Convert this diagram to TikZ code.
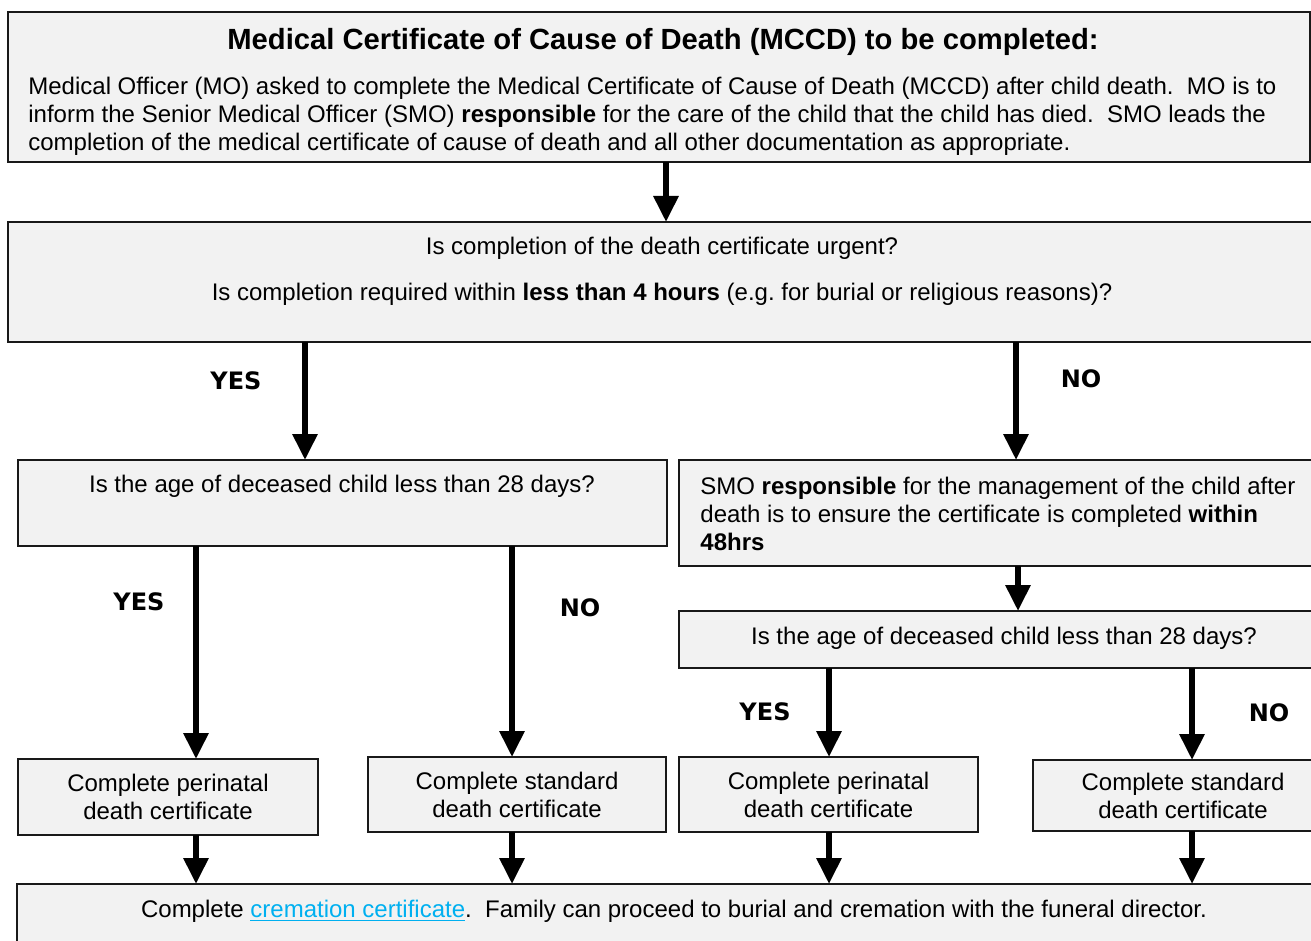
\documentclass[tikz,border=0pt]{standalone}
\usepackage{fontspec}
\setmainfont{Liberation Sans}
\newfontfamily\heavyfont{DejaVu Sans}
\usetikzlibrary{arrows.meta}
\definecolor{boxgray}{RGB}{242,242,242}
\definecolor{linkblue}{RGB}{0,176,240}
\begin{document}
\begin{tikzpicture}[x=0.5pt,y=-0.5pt,
        box/.style={draw=black!90,fill=boxgray,line width=1pt,rectangle,
            anchor=north west,inner sep=0pt,outer sep=0pt},
        txt/.style={font=\fontsize{12}{14}\selectfont,inner sep=0pt},
        yesno/.style={font=\heavyfont\bfseries\fontsize{12}{14}\selectfont,inner sep=0pt},
        arr/.style={line width=3pt,-{Triangle[width=12pt,length=13pt]}}]
\useasboundingbox (0,0) rectangle (1311,941);

\node[box,minimum width=651pt,minimum height=75pt] (top) at (8,12) {};
\node[box,minimum width=656pt,minimum height=60pt] (urgent) at (8,222) {};
\node[box,minimum width=324.5pt,minimum height=43pt] (ageL) at (18,460) {};
\node[box,minimum width=320.5pt,minimum height=53pt] (smo) at (679,460) {};
\node[box,minimum width=320.5pt,minimum height=28.5pt] (ageR) at (679,611) {};
\node[box,minimum width=150pt,minimum height=38pt,align=center,txt] (perL) at (18,759)
    {Complete perinatal\\death certificate};
\node[box,minimum width=149pt,minimum height=37.5pt,align=center,txt] (stdL) at (368,757)
    {Complete standard\\death certificate};
\node[box,minimum width=149.5pt,minimum height=37.5pt,align=center,txt] (perR) at (679,757)
    {Complete perinatal\\death certificate};
\node[box,minimum width=150pt,minimum height=35.5pt,align=center,txt] (stdR) at (1033,760)
    {Complete standard\\death certificate};
\node[box,minimum width=651.5pt,minimum height=38pt] (final) at (17,884) {};

\node[font=\bfseries\fontsize{14.6}{16}\selectfont,inner sep=0pt] (title) at (663,42)
    {Medical Certificate of Cause of Death (MCCD) to be completed:};
\node[txt,anchor=west,align=left] (intro) at (28,116)
    {Medical Officer (MO) asked to complete the Medical Certificate of Cause of Death (MCCD) after child death.\ \ MO is to\\
     inform the Senior Medical Officer (SMO) \textbf{responsible} for the care of the child that the child has died.\ \ SMO leads the\\
     completion of the medical certificate of cause of death and all other documentation as appropriate.};
\node[txt] (urgQ1) at (662,248) {Is completion of the death certificate urgent?};
\node[txt] (urgQ2) at (662,294) {Is completion required within \textbf{less than 4 hours} (e.g.\ for burial or religious reasons)?};
\node[txt] (ageLQ) at (342,486) {Is the age of deceased child less than 28 days?};
\node[txt,anchor=west,align=left] (smoText) at (700,514)
    {SMO \textbf{responsible} for the management of the child after\\
     death is to ensure the certificate is completed \textbf{within}\\
     \textbf{48hrs}};
\node[txt] (ageRQ) at (1004,638) {Is the age of deceased child less than 28 days?};
\node[txt] (finalText) at (674,911)
    {Complete \textcolor{linkblue}{\underline{cremation certificate}}.\ \ Family can proceed to burial and cremation with the funeral director.};

\node[yesno] (yes1) at (236,381) {YES};
\node[yesno] (no1) at (1081,379) {NO};
\node[yesno] (yes2) at (139,602) {YES};
\node[yesno] (no2) at (580,608) {NO};
\node[yesno] (yes3) at (765,712) {YES};
\node[yesno] (no3) at (1269,713) {NO};

\draw[arr] (top.south -| 666,0) -- (urgent.north -| 666,0);
\draw[arr] (urgent.south -| 305,0) -- (ageL.north -| 305,0);
\draw[arr] (urgent.south -| 1016,0) -- (smo.north -| 1016,0);
\draw[arr] (ageL.south -| 196,0) -- (perL.north -| 196,0);
\draw[arr] (ageL.south -| 512,0) -- (stdL.north -| 512,0);
\draw[arr] (smo.south -| 1018,0) -- (ageR.north -| 1018,0);
\draw[arr] (ageR.south -| 829,0) -- (perR.north -| 829,0);
\draw[arr] (ageR.south -| 1192,0) -- (stdR.north -| 1192,0);
\draw[arr] (perL.south -| 196,0) -- (final.north -| 196,0);
\draw[arr] (stdL.south -| 512,0) -- (final.north -| 512,0);
\draw[arr] (perR.south -| 829,0) -- (final.north -| 829,0);
\draw[arr] (stdR.south -| 1192,0) -- (final.north -| 1192,0);
\end{tikzpicture}
\end{document}
